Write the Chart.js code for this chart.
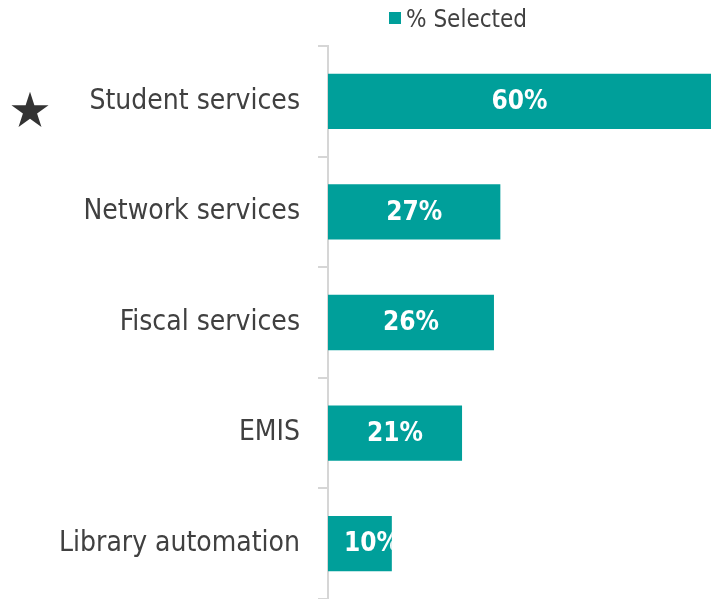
<!DOCTYPE html>
<html>
<head>
<meta charset="utf-8">
<script src="https://cdn.jsdelivr.net/npm/chart.js@4/dist/chart.umd.min.js"></script>
<style>
  html, body { margin: 0; padding: 0; background: #fff; }
  #wrap { width: 711px; height: 599px; }
</style>
</head>
<body>
<div id="wrap"><canvas id="grafica"></canvas></div>
<script>
// Datos de la gráfica
const categorias = ['Student services', 'Network services', 'Fiscal services', 'EMIS', 'Library automation'];
const porcentajes = [60, 27, 26, 21, 10];
const destacadas = ['Student services'];
const etiquetaSerie = '% Selected';

const TEAL = '#009f9a';
const TEXTO = '#404040';
const FUENTE = '"DejaVu Sans Condensed", "DejaVu Sans", sans-serif';

// Etiquetas de valor dentro de cada barra, recortadas al rectángulo de la barra
const etiquetasBarras = {
    id: 'etiquetasBarras',
    afterDatasetsDraw(chart) {
        const ctx = chart.ctx;
        const meta = chart.getDatasetMeta(0);
        const datos = chart.data.datasets[0].data;
        ctx.save();
        ctx.font = 'bold 26px ' + FUENTE;
        ctx.fillStyle = '#ffffff';
        ctx.textBaseline = 'middle';
        ctx.textAlign = 'center';
        meta.data.forEach((bar, i) => {
            const izq = Math.min(bar.base, bar.x);
            const der = Math.min(Math.max(bar.base, bar.x), chart.chartArea.right);
            const texto = datos[i] + '%';
            const ancho = ctx.measureText(texto).width;
            let cx = (izq + der) / 2;
            cx = Math.max(cx, izq + 16 + ancho / 2);
            ctx.save();
            ctx.beginPath();
            ctx.rect(izq, bar.y - bar.height / 2, der - izq, bar.height);
            ctx.clip();
            ctx.fillText(texto, cx, bar.y + 1);
            ctx.restore();
        });
        ctx.restore();
    }
};

// Leyenda simple arriba y estrella junto a las categorías destacadas
const decoracion = {
    id: 'decoracion',
    afterDraw(chart) {
        const ctx = chart.ctx;
        ctx.save();
        ctx.fillStyle = TEAL;
        ctx.fillRect(389, 12, 12, 12);
        ctx.fillStyle = TEXTO;
        ctx.font = '24px ' + FUENTE;
        ctx.textBaseline = 'alphabetic';
        ctx.textAlign = 'left';
        ctx.fillText(chart.data.datasets[0].label, 406, 27);

        const escalaY = chart.scales.y;
        destacadas.forEach(nombre => {
            const idx = chart.data.labels.indexOf(nombre);
            if (idx < 0) return;
            const cy = escalaY.getPixelForValue(idx) + 10;
            const cx = 30, R = 19.5, r = R * 0.382;
            ctx.beginPath();
            for (let k = 0; k < 10; k++) {
                const rad = k % 2 === 0 ? R : r;
                const ang = -Math.PI / 2 + k * Math.PI / 5;
                const px = cx + rad * Math.cos(ang);
                const py = cy + rad * Math.sin(ang);
                if (k === 0) ctx.moveTo(px, py); else ctx.lineTo(px, py);
            }
            ctx.closePath();
            ctx.fillStyle = '#333333';
            ctx.fill();
        });
        ctx.restore();
    }
};

const ctx = document.getElementById('grafica').getContext('2d');
new Chart(ctx, {
    type: 'bar',
    data: {
        labels: categorias,
        datasets: [{
            label: etiquetaSerie,
            data: porcentajes,
            backgroundColor: TEAL,
            borderWidth: 0,
            categoryPercentage: 1,
            barPercentage: 0.5
        }]
    },
    options: {
        indexAxis: 'y',
        responsive: true,
        maintainAspectRatio: false,
        animation: false,
        layout: { padding: { top: 46, right: 0, bottom: 0, left: 0 } },
        plugins: {
            legend: { display: false },
            tooltip: { enabled: false }
        },
        scales: {
            x: {
                display: false,
                min: 0,
                max: 60
            },
            y: {
                afterFit(escala) {
                    escala.width = 328;
                    escala.paddingTop = 0;
                    escala.paddingBottom = 0;
                },
                border: { display: true, color: '#d6d6d6', width: 2 },
                grid: {
                    offset: true,
                    drawOnChartArea: false,
                    drawTicks: true,
                    tickLength: 10,
                    color: '#d6d6d6',
                    lineWidth: 2
                },
                ticks: {
                    color: TEXTO,
                    padding: 18,
                    font: { family: FUENTE, size: 28 }
                }
            }
        }
    },
    plugins: [etiquetasBarras, decoracion]
});
</script>
</body>
</html>
